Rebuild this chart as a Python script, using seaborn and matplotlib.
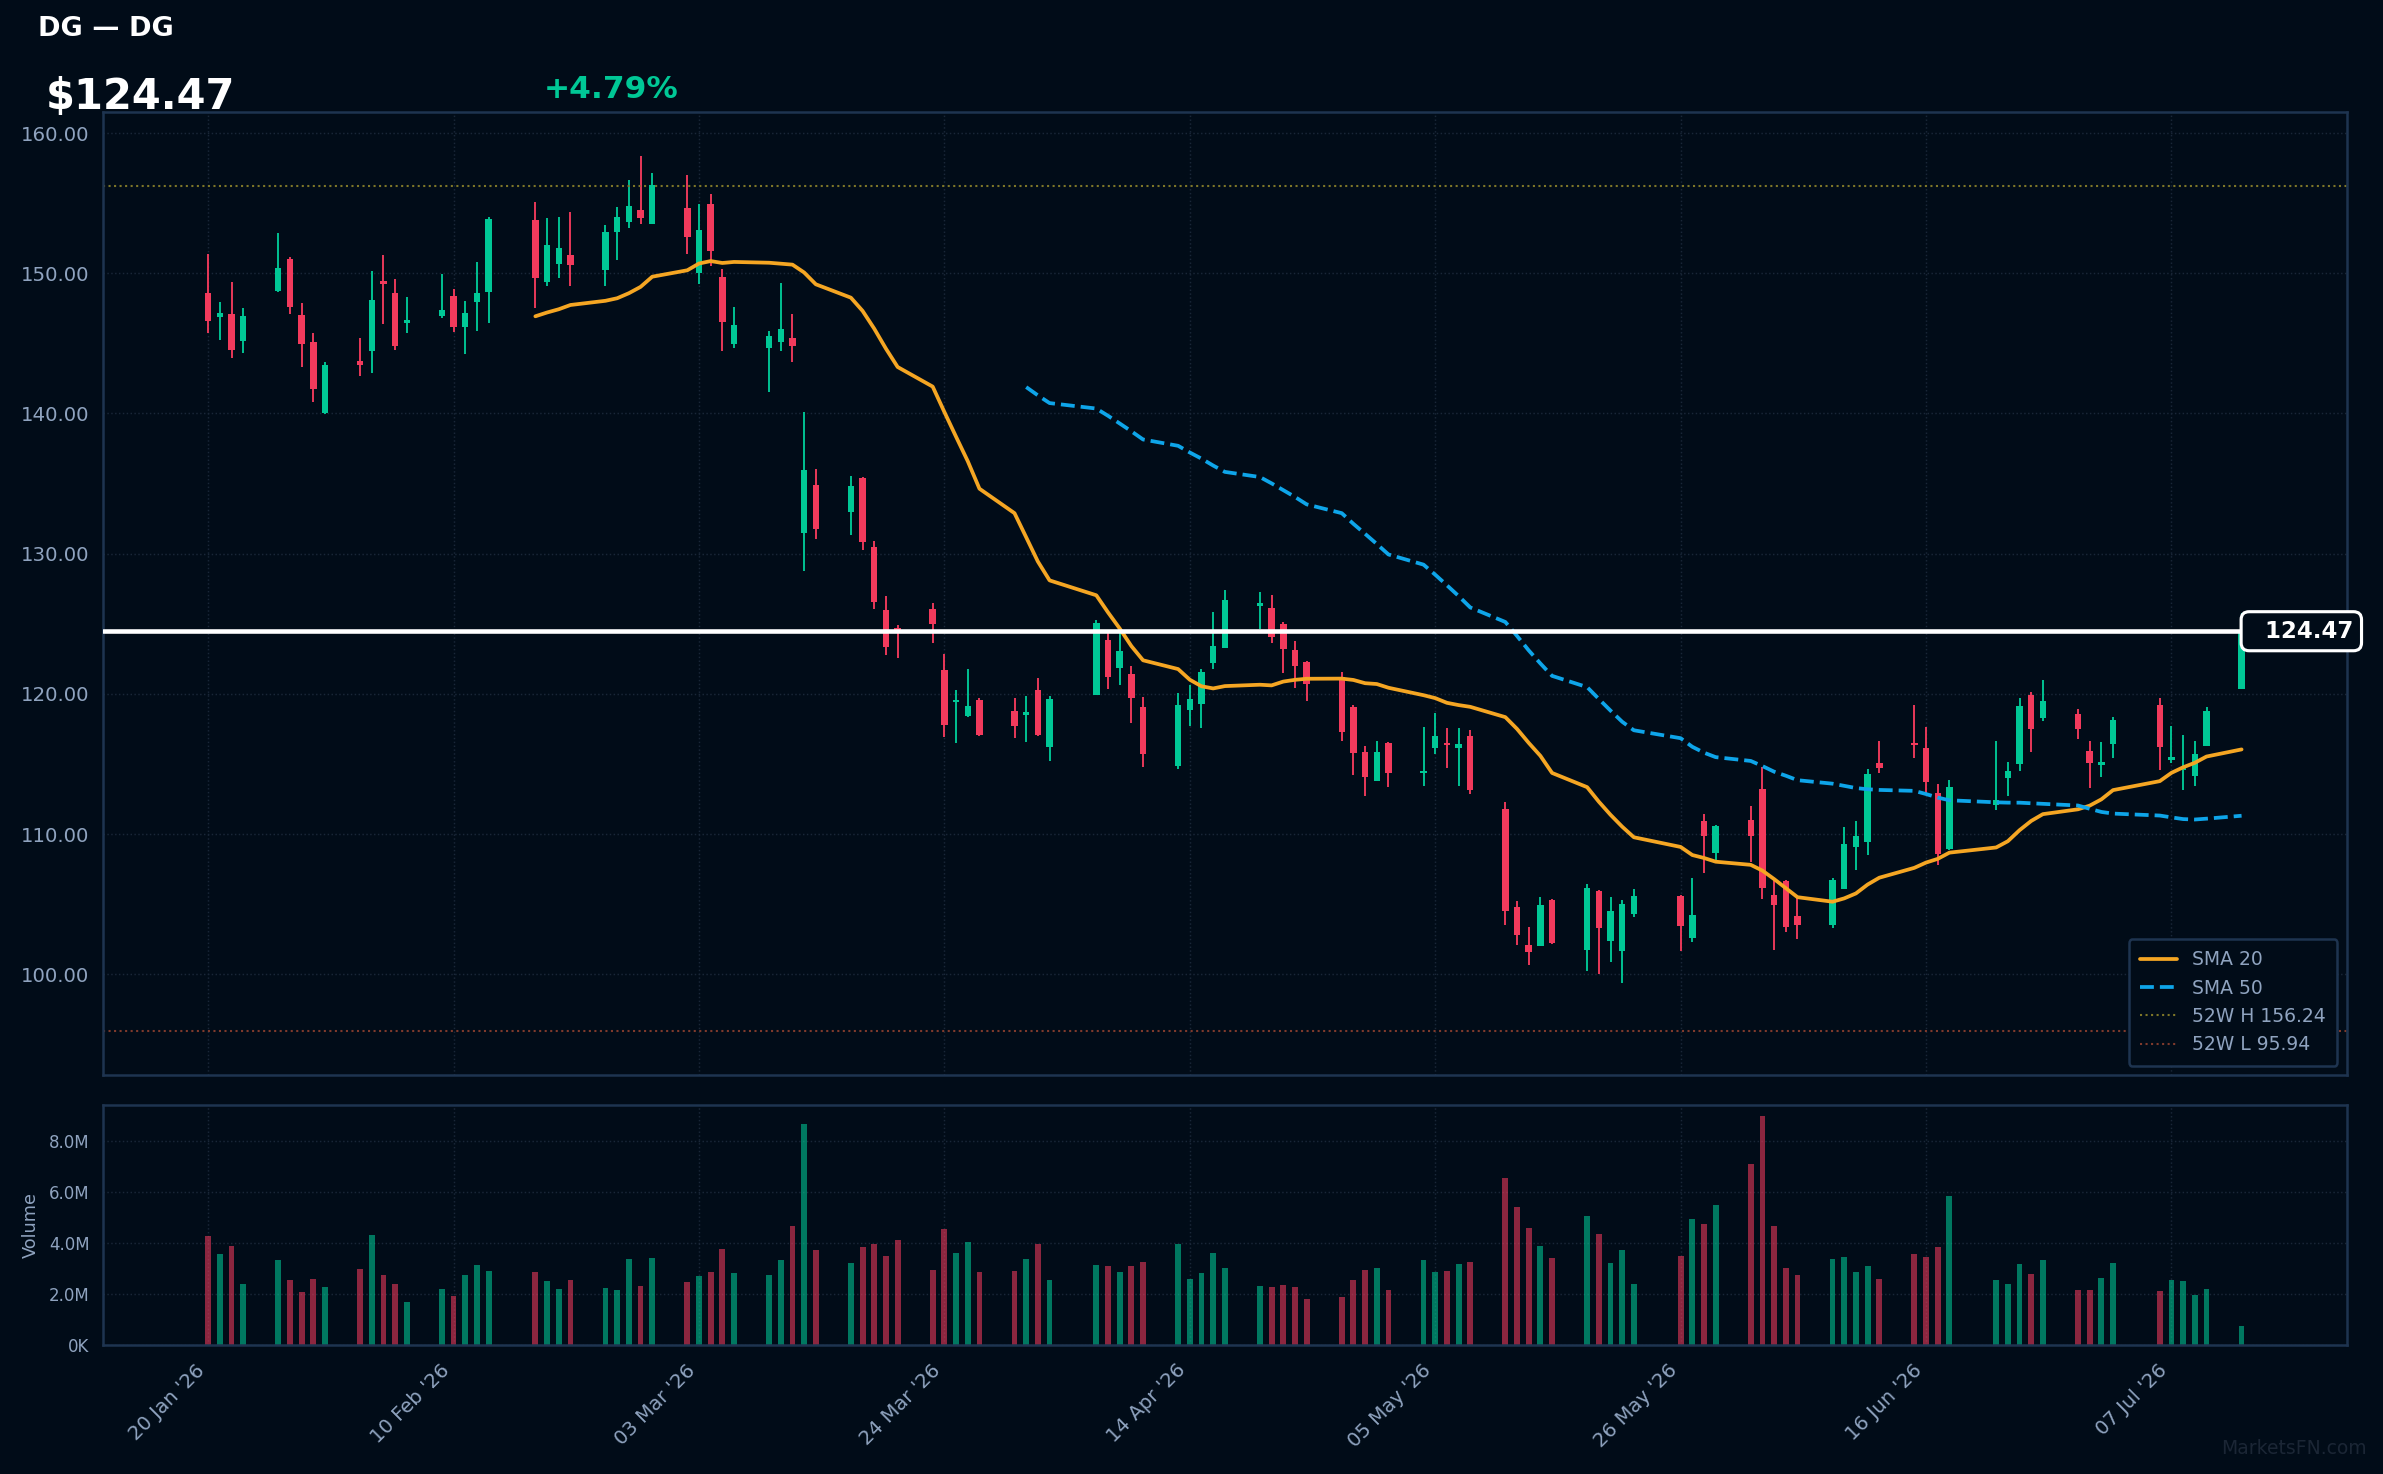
import numpy as np
import pandas as pd
import seaborn as sns
import matplotlib.pyplot as plt
import matplotlib.dates as mdates
from matplotlib.ticker import FuncFormatter, MultipleLocator

# --- data --------------------------------------------------------------------
ticker = "DG"
holidays = ["2026-02-16", "2026-04-03", "2026-05-25", "2026-06-19", "2026-07-03"]
dates = pd.bdate_range("2026-01-20", "2026-07-13", freq="C", holidays=holidays)

opens = [148.59, 146.90, 147.09, 145.19, 148.76, 151.02, 147.02, 145.09, 140.04, 143.73,
         144.47, 149.38, 148.59, 146.47, 146.97, 148.38, 146.19, 147.97, 148.69, 153.80,
         149.40, 150.69, 151.30, 150.26, 152.97, 153.69, 154.52, 153.54, 154.66, 150.04,
         154.95, 149.73, 144.97, 144.69, 145.11, 145.38, 131.48, 134.88, 132.98, 135.38,
         130.45, 125.95, 124.60, 126.03, 121.67, 119.41, 118.43, 119.53, 118.81, 118.50,
         120.31, 116.19, 119.91, 123.81, 121.88, 121.45, 119.03, 114.83, 118.83, 119.26,
         122.19, 123.26, 126.29, 126.10, 124.95, 123.10, 122.31, 121.17, 119.10, 115.88,
         113.76, 116.53, 114.35, 116.11, 116.49, 116.11, 117.02, 111.80, 104.80, 102.09,
         102.04, 105.30, 101.76, 105.95, 102.40, 101.68, 104.33, 105.59, 102.61, 110.95,
         108.68, 111.02, 113.23, 105.66, 106.66, 104.16, 103.54, 106.11, 109.11, 109.47,
         115.09, 116.42, 116.16, 112.95, 108.97, 112.04, 113.97, 114.97, 119.95, 118.26,
         118.59, 115.95, 114.90, 116.40, 119.23, 115.30, 114.55, 114.11, 116.26, 120.33]
highs = [151.38, 147.95, 149.38, 147.52, 152.88, 151.16, 147.88, 145.73, 143.66, 145.38,
         150.16, 151.31, 149.59, 148.31, 149.95, 148.88, 148.02, 150.81, 154.00, 155.09,
         153.95, 154.02, 154.38, 153.45, 154.73, 156.66, 158.38, 157.16, 157.02, 154.95,
         155.66, 150.30, 147.59, 145.88, 149.30, 147.09, 140.10, 136.03, 135.53, 135.45,
         130.88, 126.95, 124.88, 126.45, 122.81, 120.31, 121.74, 119.74, 119.74, 119.88,
         121.10, 119.88, 125.24, 124.31, 124.43, 122.00, 119.81, 120.03, 120.60, 121.81,
         125.81, 127.38, 127.24, 127.03, 125.10, 123.74, 122.38, 121.53, 119.24, 116.31,
         116.67, 116.60, 117.66, 118.66, 117.59, 117.59, 117.45, 112.30, 105.23, 103.37,
         105.52, 105.37, 106.45, 106.02, 105.52, 105.30, 106.09, 105.66, 106.87, 111.45,
         110.66, 112.02, 114.80, 106.71, 106.73, 105.59, 106.87, 110.52, 110.95, 114.66,
         116.66, 119.23, 117.66, 113.59, 113.87, 116.66, 115.16, 119.73, 120.16, 121.02,
         118.95, 116.66, 116.59, 118.38, 119.73, 117.73, 117.09, 116.66, 119.09, 125.78]
lows = [145.76, 145.23, 143.97, 144.33, 148.66, 147.12, 143.33, 140.81, 139.97, 142.69,
        142.90, 146.40, 144.54, 145.73, 146.83, 145.83, 144.26, 145.90, 146.47, 147.54,
        149.11, 149.69, 149.11, 149.11, 150.97, 153.26, 153.54, 153.54, 151.40, 149.26,
        150.54, 144.47, 144.69, 141.54, 144.47, 143.69, 128.76, 131.05, 131.34, 130.26,
        126.05, 122.76, 122.55, 123.62, 116.91, 116.48, 118.38, 117.00, 116.83, 116.55,
        116.98, 115.20, 119.91, 120.38, 120.60, 117.95, 114.81, 114.62, 117.74, 117.60,
        121.76, 123.26, 124.60, 123.62, 121.48, 120.41, 119.48, 116.62, 114.19, 112.69,
        113.76, 113.33, 113.40, 115.73, 114.73, 113.45, 112.83, 103.54, 102.11, 100.68,
        102.04, 102.18, 100.25, 100.04, 100.90, 99.40, 104.11, 101.68, 102.33, 107.25,
        108.16, 108.04, 105.40, 101.76, 103.04, 102.54, 103.33, 106.11, 107.45, 108.54,
        114.33, 115.40, 112.90, 107.83, 108.83, 111.69, 112.69, 114.47, 115.83, 118.04,
        116.76, 113.26, 114.04, 115.40, 114.54, 115.04, 113.11, 113.40, 116.26, 120.33]
closes = [146.62, 147.16, 144.54, 146.95, 150.38, 147.62, 144.97, 141.76, 143.45, 143.47,
          148.09, 149.26, 144.81, 146.66, 147.38, 146.19, 147.16, 148.59, 153.90, 149.69,
          152.02, 151.80, 150.61, 152.95, 154.02, 154.80, 153.97, 156.30, 152.61, 153.09,
          151.61, 146.54, 146.30, 145.52, 146.02, 144.83, 135.95, 131.76, 134.81, 130.84,
          126.55, 123.34, 124.50, 124.98, 117.76, 119.48, 119.17, 117.05, 117.69, 118.67,
          117.05, 119.67, 125.03, 121.17, 123.03, 119.69, 115.69, 119.24, 119.60, 121.53,
          123.45, 126.67, 126.45, 124.05, 123.19, 121.98, 120.69, 117.26, 115.76, 114.05,
          115.88, 114.33, 114.42, 117.02, 116.33, 116.45, 113.18, 104.54, 102.83, 101.61,
          104.95, 102.26, 106.16, 103.33, 104.49, 105.02, 105.59, 103.47, 104.23, 109.83,
          110.59, 109.83, 106.18, 104.97, 103.40, 103.54, 106.73, 109.30, 109.87, 114.30,
          114.68, 116.35, 113.68, 108.61, 113.37, 112.40, 114.52, 119.16, 117.47, 119.52,
          117.47, 115.04, 115.16, 118.16, 116.19, 115.38, 114.66, 115.73, 118.78, 124.47]
volumes_m = [4.27, 3.57, 3.88, 2.39, 3.33, 2.55, 2.08, 2.59, 2.27, 2.98,
             4.31, 2.75, 2.39, 1.69, 2.20, 1.92, 2.75, 3.14, 2.90, 2.86,
             2.51, 2.20, 2.55, 2.24, 2.16, 3.37, 2.31, 3.41, 2.47, 2.71,
             2.86, 3.76, 2.82, 2.75, 3.33, 4.67, 8.63, 3.73, 3.22, 3.84,
             3.95, 3.49, 4.12, 2.94, 4.55, 3.61, 4.04, 2.86, 2.90, 3.37,
             3.95, 2.55, 3.14, 3.10, 2.86, 3.10, 3.25, 3.95, 2.59, 2.82,
             3.61, 3.02, 2.31, 2.27, 2.35, 2.27, 1.80, 1.88, 2.55, 2.94,
             3.02, 2.16, 3.33, 2.86, 2.90, 3.18, 3.25, 6.55, 5.41, 4.59,
             3.88, 3.41, 5.06, 4.35, 3.22, 3.73, 2.39, 3.49, 4.94, 4.75,
             5.49, 7.10, 8.94, 4.67, 3.02, 2.75, 3.37, 3.45, 2.86, 3.10,
             2.59, 3.57, 3.45, 3.84, 5.84, 2.55, 2.39, 3.18, 2.78, 3.33,
             2.16, 2.16, 2.63, 3.22, 2.12, 2.55, 2.51, 1.96, 2.20, 0.75]
high_52w = 156.24
low_52w = 95.94
change_pct = 4.79

# --- colours -------------------------------------------------------------------
BG = "#010c18"
SPINE = "#1e3450"
GRID = "#1a2738"
TICK = "#8fa3bf"
GREEN = "#00c896"
RED = "#f23a5c"
ORANGE = "#f5a623"
BLUE = "#0ea5e9"
H52 = "#7d7628"
L52 = "#7f3a2c"

df = pd.DataFrame({"date": dates, "open": opens, "high": highs, "low": lows,
                   "close": closes, "volume": np.array(volumes_m) * 1e6})
df["sma20"] = df["close"].rolling(20).mean()
df["sma50"] = df["close"].rolling(50).mean()
up = df["close"] >= df["open"]
colors = np.where(up, GREEN, RED)

sns.set_theme(style="dark", rc={"axes.facecolor": BG, "figure.facecolor": BG,
                                "axes.edgecolor": SPINE, "text.color": "white"})
plt.rcParams["font.family"] = ["DejaVu Sans"]

fig = plt.figure(figsize=(2383 / 150, 1474 / 150), dpi=150)
ax = fig.add_axes([0.0432, 0.2707, 0.9416, 0.6533])
ax_vol = fig.add_axes([0.0432, 0.0875, 0.9416, 0.1628], sharex=ax)

# candles
ax.vlines(df["date"], df["low"], df["high"], color=colors, lw=0.9, zorder=2)
body_low = np.minimum(df["open"], df["close"])
body_h = np.maximum((df["close"] - df["open"]).abs(), 0.18)
ax.bar(df["date"], body_h, bottom=body_low, width=0.55, color=colors,
       linewidth=0, zorder=3)

# moving averages
sns.lineplot(data=df.dropna(subset=["sma20"]), x="date", y="sma20", ax=ax,
             color=ORANGE, lw=1.8, label="SMA 20", zorder=4)
sns.lineplot(data=df.dropna(subset=["sma50"]), x="date", y="sma50", ax=ax,
             color=BLUE, lw=1.8, ls="--", label="SMA 50", zorder=4)

ax.axhline(high_52w, color=H52, lw=1.0, ls=":", label=f"52W H {high_52w:.2f}")
ax.axhline(low_52w, color=L52, lw=1.0, ls=":", label=f"52W L {low_52w:.2f}")

last = closes[-1]
ax.axhline(last, color="white", lw=2.2, zorder=6)
ax.text(1.003, last, f"  {last:.2f}", transform=ax.get_yaxis_transform(),
        ha="right", va="center", color="white", fontsize=11, fontweight="bold",
        zorder=7, bbox=dict(boxstyle="round,pad=0.35", fc=BG, ec="white", lw=1.5))

ax.set_xlabel("")
ax.set_ylabel("")
ax.yaxis.set_major_locator(MultipleLocator(10))
ax.yaxis.set_major_formatter(FuncFormatter(lambda v, p: f"{v:.2f}"))
ax.tick_params(axis="y", colors=TICK, labelsize=9.5, length=3)
ax.tick_params(axis="x", length=0, labelbottom=False)
ax.grid(True, ls=":", color=GRID, lw=0.7)
for s in ax.spines.values():
    s.set_color(SPINE)
    s.set_linewidth(1.2)

leg = ax.legend(loc="lower right", fontsize=9, facecolor=BG, edgecolor=SPINE,
                labelcolor=TICK, framealpha=1, borderpad=0.6)
leg.get_frame().set_linewidth(1.2)

# volume
ax_vol.bar(df["date"], df["volume"], width=0.5, color=colors, alpha=0.58,
           linewidth=0)
ax_vol.yaxis.set_major_locator(MultipleLocator(2e6))
ax_vol.yaxis.set_major_formatter(FuncFormatter(
    lambda v, p: f"{v / 1e6:.1f}M" if v >= 1e6 else f"{v / 1e3:.0f}K"))
ax_vol.set_ylabel("Volume", color=TICK, fontsize=8.5)
ax_vol.set_xlabel("")
ax_vol.tick_params(axis="y", colors=TICK, labelsize=8, length=3)
ax_vol.tick_params(axis="x", colors=TICK, labelsize=9.5, length=4)
ax_vol.grid(True, ls=":", color=GRID, lw=0.7)
for s in ax_vol.spines.values():
    s.set_color(SPINE)
    s.set_linewidth(1.2)

ticks = pd.date_range(dates[0], dates[-1], freq="21D")
ax_vol.set_xticks(ticks)
ax_vol.xaxis.set_major_formatter(mdates.DateFormatter("%d %b '%y"))
plt.setp(ax_vol.get_xticklabels(), rotation=45, ha="right")

# header
fig.text(0.016, 0.980, f"{ticker} — {ticker}", color="white", fontsize=13,
         fontweight="bold", va="center")
fig.text(0.019, 0.934, f"${last:.2f}", color="white", fontsize=20,
         fontweight="bold", va="center")
fig.text(0.228, 0.939, f"+{change_pct:.2f}%", color=GREEN, fontsize=15,
         fontweight="bold", va="center")
fig.text(0.993, 0.017, "MarketsFN.com", color="#1b2635", fontsize=9,
         ha="right", va="center")

fig.savefig("out.png", dpi=150, facecolor=BG)
